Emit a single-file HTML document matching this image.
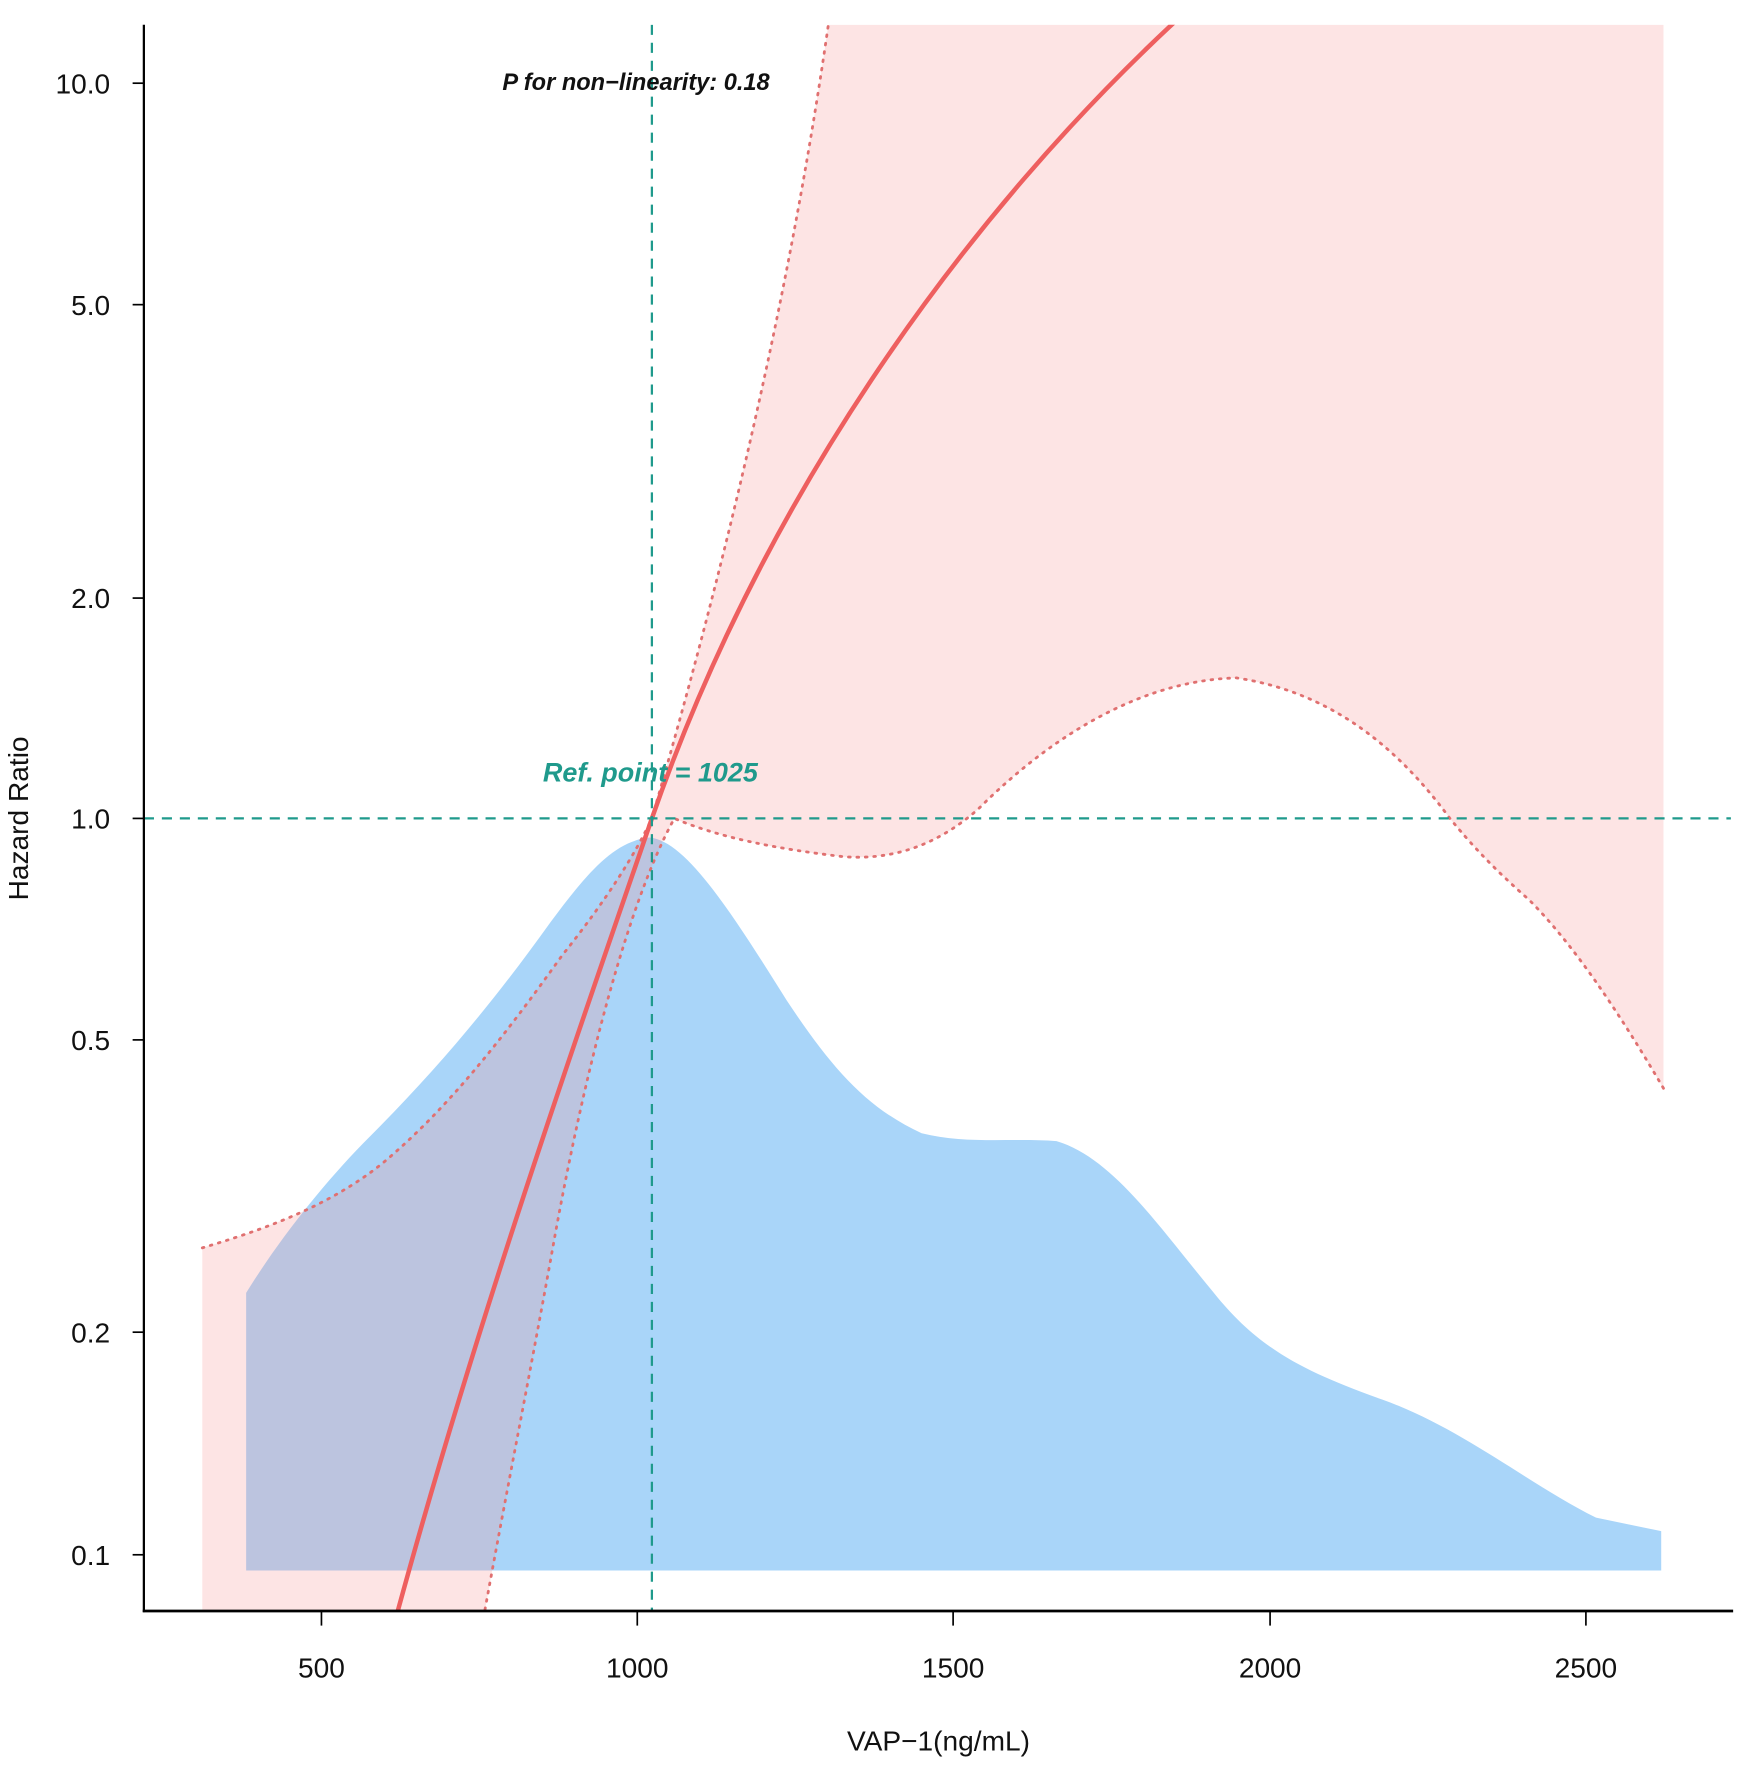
<!DOCTYPE html>
<html><head><meta charset="utf-8"><style>html,body{margin:0;padding:0;background:#fff}svg{display:block}</style></head>
<body>
<svg width="1750" height="1765" viewBox="0 0 1557 1570" preserveAspectRatio="none" xmlns="http://www.w3.org/2000/svg" font-family="Liberation Sans, sans-serif">
<defs><clipPath id="c"><rect x="128" y="22" width="1412" height="1411"/></clipPath></defs>
<g clip-path="url(#c)">
<path d="M219,1397 L219,1150 C250,1100 290,1050 330,1010 C390,950 440,890 490,820 C520,780 545,748 578,745 C610,748 650,810 700,890 C740,950 770,985 820,1008 C860,1018 900,1012 940,1015 C990,1030 1030,1090 1080,1150 C1120,1200 1160,1220 1230,1245 C1300,1270 1360,1320 1420,1350 L1478,1362 L1478,1397 Z" fill="#a9d5f9"/>
<path d="M180,1440 L180,1110 C230,1095 290,1075 340,1035 C400,985 450,920 500,850 C540,800 565,760 580,728 C640,520 700,280 737,22 L1480,22 L1480,968 C1440,900 1400,840 1360,800 C1320,765 1300,740 1290,728 C1240,660 1180,615 1100,603 C1020,605 940,650 870,720 C830,755 790,765 750,762 C690,755 640,745 600,728 C560,800 520,950 490,1120 C470,1230 450,1330 430,1440 Z" fill="rgba(247,147,147,0.25)"/>
<path d="M180,1110 C230,1095 290,1075 340,1035 C400,985 450,920 500,850 C540,800 565,760 580,728 C640,520 700,280 737,22" fill="none" stroke="#e07070" stroke-width="2.5" stroke-dasharray="1.5,6" stroke-linecap="round"/>
<path d="M1480,968 C1440,900 1400,840 1360,800 C1320,765 1300,740 1290,728 C1240,660 1180,615 1100,603 C1020,605 940,650 870,720 C830,755 790,765 750,762 C690,755 640,745 600,728 C560,800 520,950 490,1120 C470,1230 450,1330 430,1440" fill="none" stroke="#e07070" stroke-width="2.5" stroke-dasharray="1.5,6" stroke-linecap="round"/>
<path d="M352,1440 C420,1190 500,960 580,728 C680,440 860,190 1050,15" fill="none" stroke="#ee5f5f" stroke-width="4"/>
<line x1="580" y1="22" x2="580" y2="1433" stroke="#1f9a8c" stroke-width="2" stroke-dasharray="9,7"/>
<line x1="128" y1="728" x2="1545" y2="728" stroke="#1f9a8c" stroke-width="2" stroke-dasharray="9,7"/>
</g>
<line x1="128" y1="22" x2="128" y2="1434" stroke="#000" stroke-width="2"/>
<line x1="127" y1="1433" x2="1542" y2="1433" stroke="#000" stroke-width="2.5"/>
<g stroke="#000" stroke-width="1.5">
<line x1="118" y1="74" x2="128" y2="74"/><line x1="118" y1="271" x2="128" y2="271"/><line x1="118" y1="532" x2="128" y2="532"/><line x1="118" y1="728" x2="128" y2="728"/><line x1="118" y1="925" x2="128" y2="925"/><line x1="118" y1="1185" x2="128" y2="1185"/><line x1="118" y1="1383" x2="128" y2="1383"/>
<line x1="286" y1="1433" x2="286" y2="1446"/><line x1="567" y1="1433" x2="567" y2="1446"/><line x1="848" y1="1433" x2="848" y2="1446"/><line x1="1130" y1="1433" x2="1130" y2="1446"/><line x1="1411" y1="1433" x2="1411" y2="1446"/>
</g>
<g font-size="25" fill="#111" text-anchor="end">
<text x="98" y="83">10.0</text><text x="98" y="280">5.0</text><text x="98" y="541">2.0</text><text x="98" y="737">1.0</text><text x="98" y="934">0.5</text><text x="98" y="1194">0.2</text><text x="98" y="1392">0.1</text>
</g>
<g font-size="25" fill="#111" text-anchor="middle">
<text x="286" y="1492">500</text><text x="567" y="1492">1000</text><text x="848" y="1492">1500</text><text x="1130" y="1492">2000</text><text x="1411" y="1492">2500</text>
<text x="835" y="1557">VAP−1(ng/mL)</text>
<text transform="translate(25,728) rotate(-90)">Hazard Ratio</text>
</g>
<text x="447" y="80" font-size="21" font-weight="bold" font-style="italic" fill="#111">P for non−linearity: 0.18</text>
<text x="483" y="695" font-size="24" font-weight="bold" font-style="italic" fill="#1f9a8c">Ref. point = 1025</text>
</svg>
</body></html>
